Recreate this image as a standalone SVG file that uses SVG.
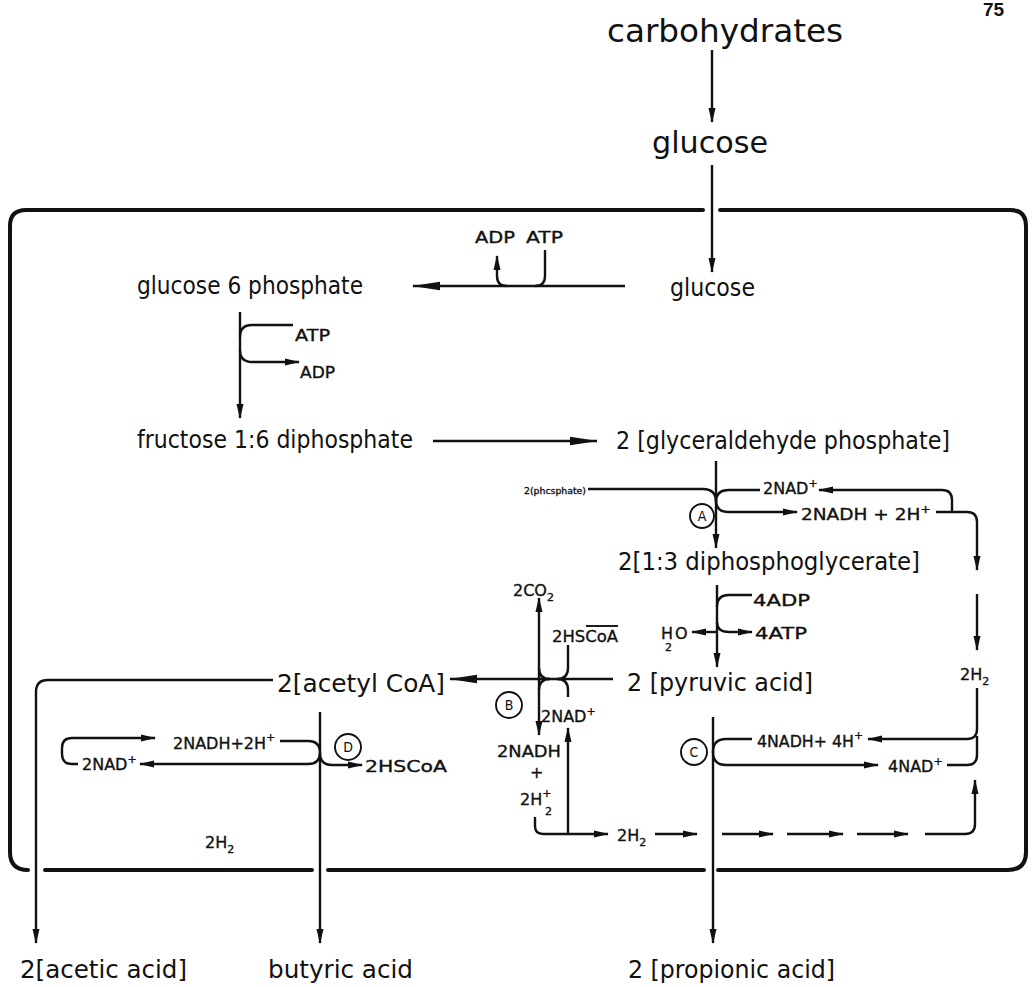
<svg xmlns="http://www.w3.org/2000/svg" width="1036" height="987" viewBox="0 0 1036 987">
<style>
.t{font-family:"DejaVu Sans Condensed","DejaVu Sans",sans-serif;fill:#111}
.b{font-size:25px}
.s{font-family:"DejaVu Sans",sans-serif;font-size:16px;stroke:#111;stroke-width:0.35}
.x{font-size:11px}
.ln{stroke:#111;stroke-width:2.4;fill:none}
.fr{stroke:#111;stroke-width:4;fill:none;stroke-linecap:round}
.c{stroke:#111;stroke-width:1.9;fill:none}
</style>
<defs>
<marker id="a" viewBox="0 0 15 8" markerWidth="15" markerHeight="8" refX="14" refY="4" orient="auto" markerUnits="userSpaceOnUse"><path d="M0,0.5 L15,4 L0,7.5 z" fill="#111"/></marker>
<marker id="A" viewBox="0 0 28 10" markerWidth="28" markerHeight="10" refX="27" refY="5" orient="auto" markerUnits="userSpaceOnUse"><path d="M0,0.8 L28,5 L0,9.2 z" fill="#111"/></marker>
</defs>
<rect width="1036" height="987" fill="#fff"/>
<text x="983" y="16" style="font-family:'Liberation Sans',sans-serif;font-weight:bold;font-size:19px" fill="#111">75</text>

<g id="frame">
<path class="fr" d="M10 226 Q10 210 26 210 H703 M720 210 H1010 Q1026 210 1026 226 V852 Q1026 870 1008 870 H718 M704 870 H328 M312 870 H45 M28 870 Q10 870 10 852 V226"/>
</g>

<g id="connectors">
<path class="ln" d="M712 50 V122" marker-end="url(#a)"/>
<path class="ln" d="M712 165 V272" marker-end="url(#a)"/>
<path class="ln" d="M625 286 H413" marker-end="url(#A)"/>
<path class="ln" d="M545 250 V276 Q545 286 535 286"/>
<path class="ln" d="M507 286 Q497 286 497 276 V256" marker-end="url(#a)"/>
<path class="ln" d="M240 312 V418" marker-end="url(#a)"/>
<path class="ln" d="M293 325 H252 Q240 325 240 337"/>
<path class="ln" d="M240 350 Q240 362 252 362 H299" marker-end="url(#a)"/>
<path class="ln" d="M433 441 H597" marker-end="url(#A)"/>
<path class="ln" d="M716 461 V548" marker-end="url(#a)"/>
<path class="ln" d="M588 489 H703 Q716 489 716 502 Q716 490 729 490 H760"/>
<path class="ln" d="M716 500 Q716 512 728 512 H797" marker-end="url(#a)"/>
<path class="ln" d="M952 512 V500 Q952 490 942 490 H819" marker-end="url(#a)"/>
<path class="ln" d="M936 512 H967 Q977 512 977 522 V570" marker-end="url(#a)"/>
<path class="ln" d="M977 594 V650" marker-end="url(#a)"/>
<path class="ln" d="M977 688 V729 Q977 739 967 739 H868" marker-end="url(#a)"/>
<path class="ln" d="M947 765 H967 Q977 765 977 755 V736"/>
<path class="ln" d="M717 585 V667" marker-end="url(#a)"/>
<path class="ln" d="M752 595 H729 Q717 595 717 607"/>
<path class="ln" d="M717 632 H692" marker-end="url(#a)"/>
<path class="ln" d="M717 622 Q717 632 729 632 H752" marker-end="url(#a)"/>
<path class="ln" d="M613 679 H450" marker-end="url(#A)"/>
<path class="ln" d="M539 679 V598" marker-end="url(#a)"/>
<path class="ln" d="M539 679 V735" marker-end="url(#a)"/>
<path class="ln" d="M539 668 Q539 679 550 679 Q539 679 539 690"/>
<path class="ln" d="M568 645 V668 Q568 679 557 679 Q568 679 568 690 V697"/>
<path class="ln" d="M535 817 V826 Q535 834 543 834 H608" marker-end="url(#a)"/>
<path class="ln" d="M568 834 V728" marker-end="url(#a)"/>
<path class="ln" d="M655 834 H697" marker-end="url(#a)"/>
<path class="ln" d="M722 834 H773" marker-end="url(#a)"/>
<path class="ln" d="M787 834 H843" marker-end="url(#a)"/>
<path class="ln" d="M857 834 H908" marker-end="url(#a)"/>
<path class="ln" d="M925 834 H965 Q975 834 975 824 V780" marker-end="url(#a)"/>
<path class="ln" d="M713 717 V943" marker-end="url(#a)"/>
<path class="ln" d="M752 739 H726 Q713 739 713 752 Q713 765 726 765 H878" marker-end="url(#a)"/>
<path class="ln" d="M273 680 H48 Q36 680 36 692 V943" marker-end="url(#a)"/>
<path class="ln" d="M320 712 V943" marker-end="url(#a)"/>
<path class="ln" d="M280 741 H308 Q320 741 320 753"/>
<path class="ln" d="M320 753 Q320 764 308 764 H140" marker-end="url(#a)"/>
<path class="ln" d="M320 753 Q320 765 332 765 H362" marker-end="url(#a)"/>
<path class="ln" d="M78 764 H72 Q62 764 62 754 V748 Q62 738 72 738 H155" marker-end="url(#a)"/>
</g>

<g id="carbohydrates"><text class="t" x="607" y="42" style="font-size:32px" textLength="236" lengthAdjust="spacingAndGlyphs">carbohydrates</text></g>
<g id="glucose-ext"><text class="t" x="652" y="153" style="font-size:30px" textLength="116" lengthAdjust="spacingAndGlyphs">glucose</text></g>
<g id="glucose"><text class="t b" x="670" y="296" textLength="85" lengthAdjust="spacingAndGlyphs">glucose</text></g>
<g id="g6p"><text class="t b" x="137" y="294" textLength="226" lengthAdjust="spacingAndGlyphs">glucose 6 phosphate</text></g>
<g id="adp-atp-top"><text class="t s" x="475" y="243" textLength="40" lengthAdjust="spacingAndGlyphs">ADP</text><text class="t s" x="526" y="243" textLength="37" lengthAdjust="spacingAndGlyphs">ATP</text></g>
<g id="atp-adp-side"><text class="t s" x="295" y="341" textLength="35" lengthAdjust="spacingAndGlyphs">ATP</text><text class="t s" x="300" y="378" textLength="35" lengthAdjust="spacingAndGlyphs">ADP</text></g>
<g id="f16dp"><text class="t b" x="137" y="448" textLength="276" lengthAdjust="spacingAndGlyphs">fructose 1:6 diphosphate</text></g>
<g id="gap"><text class="t b" x="616" y="449" textLength="334" lengthAdjust="spacingAndGlyphs">2 [glyceraldehyde phosphate]</text></g>

<g id="reactionA">
<text class="t" x="524" y="494" style="font-size:9px;stroke:#111;stroke-width:0.3" textLength="62" lengthAdjust="spacingAndGlyphs">2(phcsphate)</text>
<circle class="c" cx="702" cy="516" r="12"/><text class="t" x="702" y="521" style="font-size:14px" text-anchor="middle">A</text>
<text class="t s" x="763" y="494">2NAD<tspan class="x" dy="-7">+</tspan></text>
<text class="t s" x="801" y="520" textLength="130" lengthAdjust="spacingAndGlyphs">2NADH + 2H<tspan class="x" dy="-7">+</tspan></text>
</g>
<g id="dpg"><text class="t b" x="618" y="570" textLength="302" lengthAdjust="spacingAndGlyphs">2[1:3 diphosphoglycerate]</text></g>
<g id="atp-step">
<text class="t s" x="753" y="606" textLength="57" lengthAdjust="spacingAndGlyphs">4ADP</text>
<text class="t s" x="755" y="639" textLength="52" lengthAdjust="spacingAndGlyphs">4ATP</text>
<text class="t s"><tspan x="661" y="639">H</tspan><tspan class="x" x="665" y="651">2</tspan><tspan x="675" y="639">O</tspan></text>
</g>
<g id="h2-right"><text class="t s" x="960" y="680">2H<tspan class="x" dy="5">2</tspan></text></g>
<g id="pyruvic"><text class="t b" x="627" y="691" textLength="186" lengthAdjust="spacingAndGlyphs">2 [pyruvic acid]</text></g>
<g id="acetylcoa"><text class="t b" x="277" y="692" textLength="168" lengthAdjust="spacingAndGlyphs">2[acetyl CoA]</text></g>

<g id="reactionB">
<text class="t s" x="513" y="596">2CO<tspan class="x" dy="5">2</tspan></text>
<text class="t s" x="552" y="642" textLength="66" lengthAdjust="spacingAndGlyphs">2HSCoA</text>
<path class="c" d="M586 626 H618"/>
<circle class="c" cx="509" cy="705" r="13"/><text class="t" x="509" y="710" style="font-size:14px" text-anchor="middle">B</text>
<text class="t s" x="541" y="722">2NAD<tspan class="x" dy="-7">+</tspan></text>
<text class="t s" x="497" y="757" textLength="64" lengthAdjust="spacingAndGlyphs">2NADH</text>
<text class="t s" x="530" y="778">+</text>
<text class="t s" x="520" y="805">2H<tspan class="x" dy="-8">+</tspan><tspan class="x" x="545" y="815">2</tspan></text>
<text class="t s" x="617" y="841">2H<tspan class="x" dy="5">2</tspan></text>
</g>

<g id="reactionC">
<circle class="c" cx="694" cy="752" r="13"/><text class="t" x="694" y="757" style="font-size:14px" text-anchor="middle">C</text>
<text class="t s" x="757" y="747" textLength="106" lengthAdjust="spacingAndGlyphs">4NADH+ 4H<tspan class="x" dy="-8">+</tspan></text>
<text class="t s" x="888" y="772">4NAD<tspan class="x" dy="-7">+</tspan></text>
</g>

<g id="reactionD">
<text class="t s" x="173" y="749">2NADH+2H<tspan class="x" dy="-8">+</tspan></text>
<text class="t s" x="82" y="770">2NAD<tspan class="x" dy="-7">+</tspan></text>
<circle class="c" cx="348" cy="747" r="13"/><text class="t" x="348" y="752" style="font-size:14px" text-anchor="middle">D</text>
<text class="t s" x="365" y="772" textLength="82" lengthAdjust="spacingAndGlyphs">2HSCoA</text>
</g>
<g id="h2-left"><text class="t s" x="205" y="848">2H<tspan class="x" dy="5">2</tspan></text></g>

<g id="acetic"><text class="t b" x="20" y="978" textLength="167" lengthAdjust="spacingAndGlyphs">2[acetic acid]</text></g>
<g id="butyric"><text class="t b" x="268" y="978" textLength="145" lengthAdjust="spacingAndGlyphs">butyric acid</text></g>
<g id="propionic"><text class="t b" x="628" y="978" textLength="207" lengthAdjust="spacingAndGlyphs">2 [propionic acid]</text></g>
</svg>
